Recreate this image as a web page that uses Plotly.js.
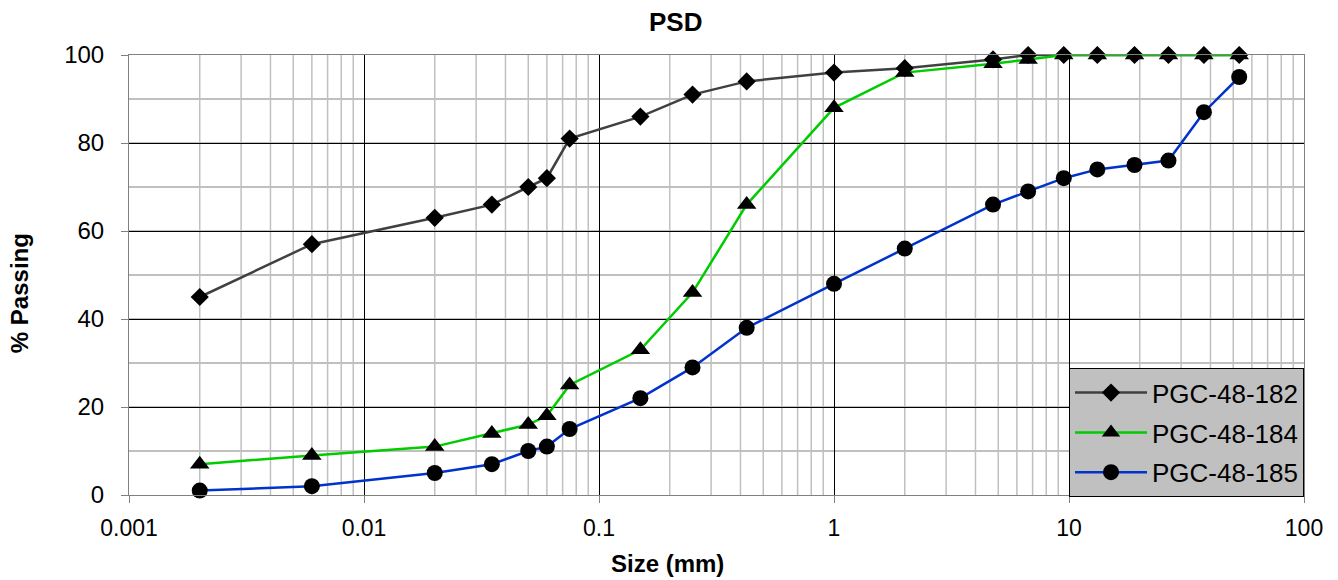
<!DOCTYPE html>
<html>
<head>
<meta charset="utf-8">
<script src="https://cdn.plot.ly/plotly-3.0.1.min.js"></script>
<style>html,body{margin:0;padding:0;background:#fff;}#chart{width:1338px;height:580px;}</style>
</head>
<body>
<div id="chart"></div>
<script>
const sizes = [0.002, 0.006, 0.02, 0.035, 0.05, 0.06, 0.075, 0.15, 0.25, 0.425, 1, 2, 4.75, 6.7, 9.5, 13.2, 19, 26.5, 37.5, 53];
const pgc182 = [45, 57, 63, 66, 70, 72, 81, 86, 91, 94, 96, 97, 99, 100, 100, 100, 100, 100, 100, 100];
const pgc184 = [7, 9, 11, 14, 16, 18, 25, 33, 46, 66, 88, 96, 98, 99, 100, 100, 100, 100, 100, 100];
const pgc185 = [1, 2, 5, 7, 10, 11, 15, 22, 29, 38, 48, 56, 66, 69, 72, 74, 75, 76, 87, 95];
const seriesNames = ["PGC-48-182", "PGC-48-184", "PGC-48-185"];
const xTickVals = [0.001, 0.01, 0.1, 1, 10, 100];
const xTickText = ["0.001", "0.01", "0.1", "1", "10", "100"];
const yTickVals = [0, 20, 40, 60, 80, 100];

// minor log gridline positions (2..9 within each decade)
const xMinorVals = [];
for (let d = 0; d < xTickVals.length - 1; d++) {
  for (let m = 2; m <= 9; m++) xMinorVals.push(xTickVals[d] * m);
}
const minorShapes = xMinorVals.map(v => ({
  type: 'line', xref: 'x', yref: 'paper', x0: v, x1: v, y0: 0, y1: 1,
  line: {color: '#c0c0c0', width: 1.5}, layer: 'below'
}));

const FONT = "Arial, 'Liberation Sans', sans-serif";

const traces = [
  {x: sizes, y: pgc182, name: seriesNames[0], legendgroup: 'a', type: 'scatter', mode: 'lines+markers', cliponaxis: false,
   line: {color: '#404040', width: 2.5}, marker: {symbol: 'diamond', size: 14, color: '#000'}},
  {x: sizes, y: pgc184, name: seriesNames[1], legendgroup: 'b', type: 'scatter', mode: 'lines+markers', cliponaxis: false,
   line: {color: '#00cc00', width: 2.5}, marker: {symbol: 'triangle-up', size: 17, color: '#000'}},
  {x: sizes, y: pgc185, name: seriesNames[2], legendgroup: 'c', type: 'scatter', mode: 'lines+markers', cliponaxis: false,
   line: {color: '#0033cc', width: 2.5}, marker: {symbol: 'circle', size: 16, color: '#000'}}
];

const layout = {
  width: 1338, height: 580,
  margin: {l: 129, r: 34, t: 55, b: 85},
  paper_bgcolor: '#fff', plot_bgcolor: '#fff',
  font: {family: FONT, size: 24, color: '#000'},
  title: {text: '<b>PSD</b>', font: {family: FONT, size: 26, color: '#000'},
          xref: 'container', x: 0.505, xanchor: 'center', yref: 'container', y: 0.962, yanchor: 'middle'},
  xaxis: {
    type: 'log', range: [-3, 2],
    tickvals: xTickVals, ticktext: xTickText,
    ticks: 'outside', ticklen: 7, tickcolor: '#808080', tickwidth: 1,
    ticklabelstandoff: 5,
    showgrid: true, gridcolor: '#000', gridwidth: 1,
    showline: true, linecolor: '#808080', linewidth: 1, mirror: true,
    zeroline: false, tickfont: {family: FONT, size: 23, color: '#000'}
  },
  yaxis: {
    range: [0, 100], tickvals: yTickVals,
    ticks: 'outside', ticklen: 7, tickcolor: '#808080', tickwidth: 1,
    ticklabelstandoff: 12,
    showgrid: true, gridcolor: '#000', gridwidth: 1,
    minor: {dtick: 10, showgrid: true, gridcolor: '#c0c0c0', gridwidth: 1.5, ticks: ''},
    showline: true, linecolor: '#808080', linewidth: 1, mirror: true,
    zeroline: false, tickfont: {family: FONT, size: 24, color: '#000'}
  },
  legend: {
    x: 1, xanchor: 'right', y: -0.005, yanchor: 'bottom',
    bgcolor: '#c0c0c0', bordercolor: '#000', borderwidth: 1,
    font: {family: FONT, size: 26, color: '#000'},
    itemwidth: 72, traceorder: 'grouped', tracegroupgap: 3
  },
  shapes: minorShapes,
  annotations: [
    {text: '<b>Size (mm)</b>', xref: 'paper', yref: 'paper', x: 0.4587, y: -0.155,
     xanchor: 'center', yanchor: 'middle', showarrow: false, font: {family: FONT, size: 24, color: '#000'}},
    {text: '<b>% Passing</b>', xref: 'paper', yref: 'paper', x: -0.0935, y: 0.459, textangle: -90,
     xanchor: 'center', yanchor: 'middle', showarrow: false, font: {family: FONT, size: 24, color: '#000'}}
  ],
  showlegend: true
};

Plotly.newPlot('chart', traces, layout, {displayModeBar: false, staticPlot: true});
</script>
</body>
</html>
